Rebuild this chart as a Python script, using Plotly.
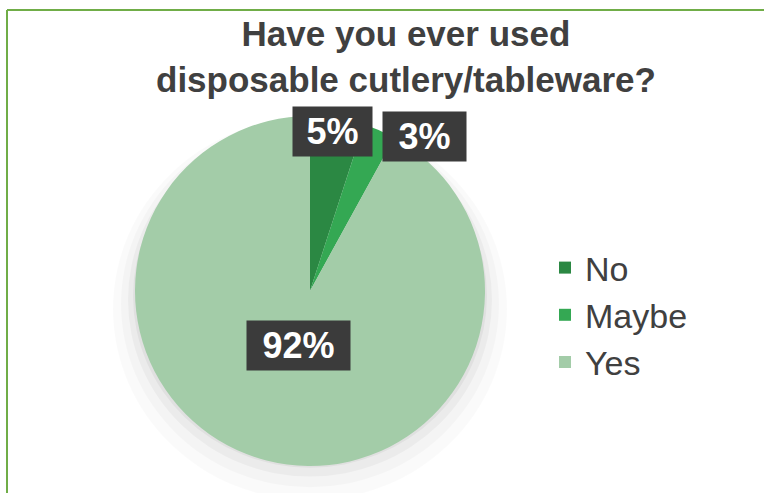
import math
import plotly.graph_objects as go

# Data
categories = ["No", "Maybe", "Yes"]
values = [5, 3, 92]
label_texts = ["5%", "3%", "92%"]
colors = ["#2B8843", "#34A853", "#A3CCA8"]

# Layout constants (pixels)
W, H = 764, 493
cx, cy, r = 310, 291, 175

fig = go.Figure()

# soft shadow beneath the pie
for grow, dy, op in [(22, 18, 0.018), (14, 13, 0.025), (7, 9, 0.035), (2, 5, 0.045)]:
    rr = r + grow
    fig.add_shape(type="circle", xref="paper", yref="paper",
                  x0=(cx - rr) / W, x1=(cx + rr) / W,
                  y0=1 - (cy + dy + rr * 0.97) / H, y1=1 - (cy + dy - rr * 0.97) / H,
                  fillcolor="rgba(0,0,0,%s)" % op, line=dict(width=0), layer="below")

fig.add_trace(go.Pie(
    labels=categories,
    values=values,
    marker=dict(colors=colors, line=dict(width=0)),
    sort=False,
    direction="clockwise",
    rotation=0,
    textinfo="none",
    hoverinfo="label+percent",
    domain=dict(x=[(cx - r) / W, (cx + r) / W], y=[1 - (cy + r) / H, 1 - (cy - r) / H]),
))

# data labels placed from slice mid-angles
total = sum(values)
radial = [0.92, 1.10, 0.32]
shift = [-1.0, 13.0, -2.5]
box_w = [71, 75, 95]
cum = 0
for v, t, rf, sh, bw in zip(values, label_texts, radial, shift, box_w):
    mid = (cum + v / 2) / total * 360 + sh
    cum += v
    a = math.radians(mid)
    px = cx + rf * r * math.sin(a)
    py = cy - rf * r * math.cos(a)
    fig.add_annotation(x=px / W, y=1 - py / H, xref="paper", yref="paper",
                       text="<b>%s</b>" % t, showarrow=False,
                       font=dict(family="Liberation Sans, Arial", size=36, color="white"),
                       bgcolor="#3B3B3B", borderpad=4, width=bw, height=41,
                       xanchor="center", yanchor="middle")

# title
fig.add_annotation(x=406 / W, y=1 - 12 / H, xref="paper", yref="paper",
                   text="<b>Have you ever used<br>disposable cutlery/tableware?</b>",
                   showarrow=False, xanchor="center", yanchor="top",
                   font=dict(family="Liberation Sans, Arial", size=35, color="#404040"))

# green frame lines (top and left)
fig.add_shape(type="line", xref="paper", yref="paper", x0=7 / W, x1=1, y0=1 - 10 / H, y1=1 - 10 / H,
              line=dict(color="#70AD47", width=2))
fig.add_shape(type="line", xref="paper", yref="paper", x0=7 / W, x1=7 / W, y0=0, y1=1 - 10 / H,
              line=dict(color="#70AD47", width=2))

fig.update_layout(
    width=W, height=H,
    margin=dict(l=0, r=0, t=0, b=0),
    paper_bgcolor="white", plot_bgcolor="white",
    legend=dict(x=545 / W, y=1 - 239 / H, xanchor="left", yanchor="top",
                font=dict(family="Liberation Sans, Arial", size=34, color="#404040"),
                bgcolor="rgba(0,0,0,0)", tracegroupgap=0),
    showlegend=True,
)

fig.write_html("out.html")
